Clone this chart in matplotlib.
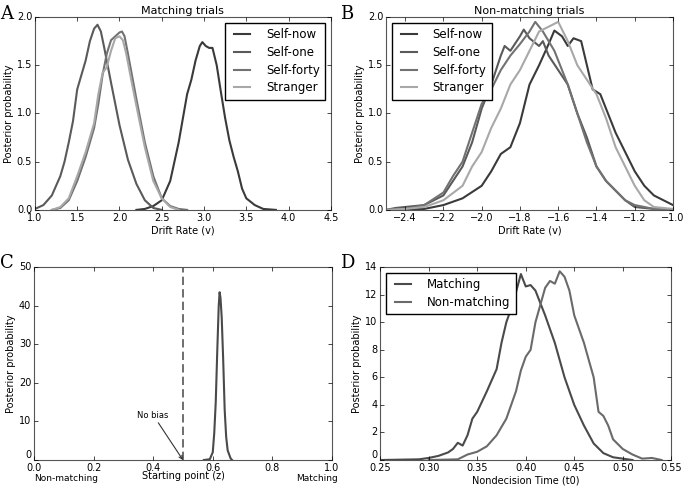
import matplotlib
matplotlib.use('Agg')
import matplotlib.pyplot as plt

plt.style.use('classic')
plt.rcParams['font.family'] = 'DejaVu Sans'
plt.rcParams['font.size'] = 7

# panel A: matching trials, drift rate
a_now_x = [2.2, 2.3, 2.4, 2.5, 2.6, 2.7, 2.75, 2.8, 2.85, 2.9, 2.95, 2.98, 3.02, 3.06, 3.1, 3.15, 3.2, 3.25, 3.3, 3.35, 3.4, 3.45, 3.5, 3.6, 3.7, 3.85]
a_now_y = [0.0, 0.01, 0.04, 0.1, 0.3, 0.7, 0.95, 1.2, 1.35, 1.55, 1.7, 1.74, 1.7, 1.68, 1.68, 1.5, 1.22, 0.95, 0.72, 0.55, 0.4, 0.22, 0.12, 0.05, 0.01, 0.0]
a_one_x = [1.0, 1.1, 1.2, 1.3, 1.35, 1.4, 1.45, 1.5, 1.55, 1.6, 1.65, 1.7, 1.74, 1.78, 1.82, 1.86, 1.9, 1.95, 2.0, 2.1, 2.2, 2.3, 2.4, 2.5]
a_one_y = [0.01, 0.05, 0.15, 0.35, 0.5, 0.7, 0.92, 1.25, 1.4, 1.55, 1.75, 1.88, 1.92, 1.85, 1.68, 1.5, 1.32, 1.1, 0.88, 0.52, 0.27, 0.1, 0.02, 0.0]
a_forty_x = [1.2, 1.3, 1.4, 1.5, 1.6, 1.7, 1.75, 1.8, 1.85, 1.9, 1.95, 2.0, 2.03, 2.06, 2.1, 2.2, 2.3, 2.4, 2.5, 2.6, 2.7, 2.8]
a_forty_y = [0.0, 0.02, 0.1, 0.3, 0.55, 0.85, 1.1, 1.4, 1.62, 1.76, 1.8, 1.84, 1.85, 1.8, 1.62, 1.15, 0.7, 0.35, 0.12, 0.04, 0.01, 0.0]
a_str_x = [1.2, 1.3, 1.4, 1.5, 1.6, 1.7, 1.75, 1.8, 1.85, 1.9, 1.95, 2.0, 2.04, 2.08, 2.15, 2.2, 2.3, 2.4, 2.5, 2.6, 2.7]
a_str_y = [0.0, 0.03, 0.12, 0.35, 0.6, 0.9, 1.2, 1.42, 1.48, 1.65, 1.78, 1.8, 1.76, 1.62, 1.3, 1.08, 0.65, 0.3, 0.12, 0.03, 0.0]

# panel B: non-matching trials, drift rate
b_now_x = [-2.5, -2.3, -2.2, -2.1, -2.0, -1.95, -1.9, -1.85, -1.8, -1.75, -1.7, -1.65, -1.62, -1.58, -1.55, -1.52, -1.48, -1.45, -1.42, -1.38, -1.35, -1.3, -1.25, -1.2, -1.15, -1.1, -1.05, -1.0]
b_now_y = [0.0, 0.01, 0.05, 0.12, 0.25, 0.4, 0.58, 0.65, 0.9, 1.3, 1.5, 1.72, 1.86, 1.8, 1.7, 1.78, 1.75, 1.5, 1.25, 1.2, 1.05, 0.8, 0.6, 0.4, 0.25, 0.15, 0.1, 0.05]
b_one_x = [-2.5, -2.45, -2.3, -2.2, -2.15, -2.1, -2.05, -2.0, -1.95, -1.9, -1.88, -1.85, -1.8, -1.78, -1.75, -1.7, -1.68, -1.65, -1.6, -1.55, -1.5, -1.45, -1.4, -1.35, -1.3, -1.25, -1.2, -1.1, -1.0]
b_one_y = [0.0, 0.02, 0.05, 0.15, 0.3, 0.45, 0.7, 1.05, 1.3, 1.6, 1.7, 1.65, 1.8, 1.87, 1.78, 1.7, 1.75, 1.6, 1.45, 1.3, 1.0, 0.75, 0.45, 0.3, 0.2, 0.1, 0.03, 0.01, 0.0]
b_forty_x = [-2.5, -2.4, -2.3, -2.2, -2.15, -2.1, -2.05, -2.0, -1.95, -1.9, -1.85, -1.8, -1.75, -1.72, -1.68, -1.62, -1.58, -1.55, -1.5, -1.45, -1.4, -1.35, -1.3, -1.25, -1.2, -1.1, -1.0]
b_forty_y = [0.0, 0.01, 0.05, 0.18, 0.35, 0.5, 0.8, 1.1, 1.25, 1.45, 1.6, 1.72, 1.85, 1.95, 1.85, 1.65, 1.45, 1.3, 1.0, 0.7, 0.45, 0.3, 0.2, 0.1, 0.05, 0.01, 0.0]
b_str_x = [-2.5, -2.4, -2.3, -2.2, -2.1, -2.05, -2.0, -1.95, -1.9, -1.85, -1.8, -1.75, -1.7, -1.65, -1.6, -1.55, -1.5, -1.45, -1.4, -1.35, -1.3, -1.25, -1.2, -1.15, -1.1, -1.0]
b_str_y = [0.0, 0.01, 0.03, 0.1, 0.25, 0.45, 0.6, 0.85, 1.05, 1.3, 1.45, 1.65, 1.85, 1.9, 1.95, 1.75, 1.5, 1.35, 1.2, 0.95, 0.65, 0.45, 0.25, 0.1, 0.03, 0.01]

# panel C: starting point
c_x = [0.57, 0.59, 0.60, 0.605, 0.61, 0.615, 0.62, 0.623, 0.626, 0.63, 0.635, 0.64, 0.645, 0.65, 0.66, 0.665]
c_y = [0.0, 0.2, 2.0, 7.0, 15.0, 28.0, 40.0, 43.5, 42.0, 37.0, 26.0, 13.0, 6.0, 2.5, 0.4, 0.0]
no_bias = 0.5

# panel D: nondecision time
d_match_x = [0.25, 0.29, 0.30, 0.31, 0.32, 0.325, 0.33, 0.335, 0.34, 0.345, 0.35, 0.36, 0.37, 0.375, 0.38, 0.385, 0.39, 0.395, 0.40, 0.405, 0.41, 0.42, 0.43, 0.44, 0.45, 0.46, 0.47, 0.48, 0.49, 0.50, 0.51]
d_match_y = [0.0, 0.05, 0.15, 0.3, 0.55, 0.8, 1.25, 1.05, 1.8, 3.0, 3.5, 5.0, 6.6, 8.5, 10.0, 11.0, 12.2, 13.5, 12.6, 12.7, 12.3, 10.5, 8.5, 6.0, 4.0, 2.5, 1.2, 0.5, 0.2, 0.1, 0.0]
d_non_x = [0.30, 0.33, 0.34, 0.35, 0.36, 0.37, 0.38, 0.39, 0.395, 0.40, 0.405, 0.41, 0.42, 0.425, 0.43, 0.435, 0.44, 0.445, 0.45, 0.46, 0.47, 0.475, 0.48, 0.485, 0.49, 0.50, 0.51, 0.52, 0.53, 0.54]
d_non_y = [0.0, 0.05, 0.4, 0.6, 1.0, 1.8, 3.0, 5.0, 6.5, 7.5, 8.0, 10.0, 12.5, 13.0, 12.8, 13.7, 13.3, 12.3, 10.5, 8.5, 6.0, 3.5, 3.2, 2.5, 1.5, 0.8, 0.4, 0.1, 0.15, 0.0]

names = ['Self-now', 'Self-one', 'Self-forty', 'Stranger']
greys = ['#3a3a3a', '#5a5a5a', '#727272', '#a8a8a8']
leg_kw = dict(fontsize=8.5, handlelength=2.0, borderpad=0.45, labelspacing=0.4, handletextpad=1.0, fancybox=False)

fig = plt.figure(figsize=(6.85, 4.87), dpi=100, facecolor='white')
axA = fig.add_axes([0.051, 0.569, 0.432, 0.396])
axB = fig.add_axes([0.5635, 0.569, 0.419, 0.396])
axC = fig.add_axes([0.0496, 0.0554, 0.435, 0.396])
axD = fig.add_axes([0.555, 0.0554, 0.425, 0.396])

for xs, ys, n, c in zip([a_now_x, a_one_x, a_forty_x, a_str_x], [a_now_y, a_one_y, a_forty_y, a_str_y], names, greys):
    axA.plot(xs, ys, color=c, lw=1.5, label=n)
axA.set_xlim(1.0, 4.5)
axA.set_ylim(0, 2.0)
axA.set_xticks([1.0, 1.5, 2.0, 2.5, 3.0, 3.5, 4.0, 4.5])
axA.set_yticks([0.0, 0.5, 1.0, 1.5, 2.0])
axA.set_title('Matching trials', fontsize=8, pad=2)
axA.set_xlabel('Drift Rate (v)', labelpad=2)
axA.set_ylabel('Posterior probability', labelpad=2)
axA.legend(loc='upper right', **leg_kw)

for xs, ys, n, c in zip([b_now_x, b_one_x, b_forty_x, b_str_x], [b_now_y, b_one_y, b_forty_y, b_str_y], names, greys):
    axB.plot(xs, ys, color=c, lw=1.5, label=n)
axB.set_xlim(-2.5, -1.0)
axB.set_ylim(0, 2.0)
axB.set_xticks([-2.4, -2.2, -2.0, -1.8, -1.6, -1.4, -1.2, -1.0])
axB.set_yticks([0.0, 0.5, 1.0, 1.5, 2.0])
axB.set_title('Non-matching trials', fontsize=8, pad=2)
axB.set_xlabel('Drift Rate (v)', labelpad=2)
axB.set_ylabel('Posterior probability', labelpad=2)
axB.legend(loc='upper left', **leg_kw)

axC.plot(c_x, c_y, color='#4a4a4a', lw=1.5)
axC.axvline(no_bias, color='#555555', lw=1.2, ls='--', dashes=(6, 3))
axC.annotate('No bias', xy=(no_bias, 0), xytext=(0.4, 10.5), fontsize=6, ha='center', va='bottom',
             arrowprops=dict(arrowstyle='->', color='#333333', lw=0.8, shrinkA=0, shrinkB=0))
axC.set_xlim(0, 1.0)
axC.set_ylim(0, 50)
axC.set_xticks([0.0, 0.2, 0.4, 0.6, 0.8, 1.0])
axC.set_yticks([0, 10, 20, 30, 40, 50])
axC.set_ylabel('Posterior probability', labelpad=2)
axC.set_xlabel('Starting point (z)', labelpad=-1)
axC.text(0.0, -0.075, 'Non-matching', transform=axC.transAxes, fontsize=6.5, ha='left', va='top')
axC.text(1.02, -0.075, 'Matching', transform=axC.transAxes, fontsize=6.5, ha='right', va='top')

axD.plot(d_match_x, d_match_y, color='#4a4a4a', lw=1.5, label='Matching')
axD.plot(d_non_x, d_non_y, color='#6a6a6a', lw=1.5, label='Non-matching')
axD.set_xlim(0.25, 0.55)
axD.set_ylim(0, 14)
axD.set_xticks([0.25, 0.30, 0.35, 0.40, 0.45, 0.50, 0.55])
axD.set_yticks([0, 2, 4, 6, 8, 10, 12, 14])
axD.set_xlabel('Nondecision Time (t0)', labelpad=2)
axD.set_ylabel('Posterior probability', labelpad=2)
axD.legend(loc='upper left', **leg_kw)

for ax in [axA, axB, axC, axD]:
    ax.tick_params(labelsize=7, pad=2, length=3)
    for sp in ax.spines.values():
        sp.set_color('#555555')
        sp.set_linewidth(0.8)

# nudge the first y label up so it does not sit on the first x label
for ax in [axC, axD]:
    ax.get_yticklabels()[0].set_va('bottom')

fig.text(0.0, 0.99, 'A', family='DejaVu Serif', fontsize=13, va='top')
fig.text(0.497, 0.99, 'B', family='DejaVu Serif', fontsize=13, va='top')
fig.text(0.0, 0.478, 'C', family='DejaVu Serif', fontsize=13, va='top')
fig.text(0.497, 0.478, 'D', family='DejaVu Serif', fontsize=13, va='top')

fig.savefig('out.png', dpi=100, facecolor='white')
